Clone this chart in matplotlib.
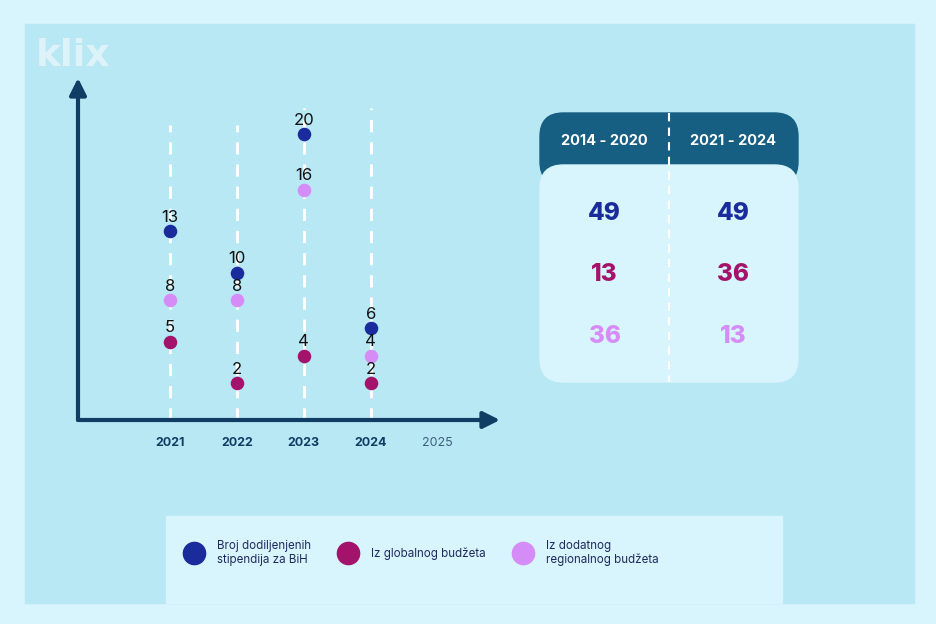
import matplotlib.pyplot as plt
from matplotlib.patches import Rectangle, FancyBboxPatch
from matplotlib.lines import Line2D

# data
years = [2021, 2022, 2023, 2024]
all_years = [2021, 2022, 2023, 2024, 2025]
broj = [13, 10, 20, 6]
globalni = [5, 2, 4, 2]
regionalni = [8, 8, 16, 4]
periods = ["2014 - 2020", "2021 - 2024"]
totals_2014_2020 = [49, 13, 36]
totals_2021_2024 = [49, 36, 13]
legend_labels = ["Broj dodiljenjenih\nstipendija za BiH", "Iz globalnog budžeta",
                 "Iz dodatnog\nregionalnog budžeta"]

c_blue = "#1a2b9b"
c_mag = "#a3136b"
c_lil = "#d68cf6"
c_axis = "#0f3d63"
c_outer = "#d8f4fc"
c_panel = "#b8e8f4"
c_head = "#175f82"
c_text = "#1f2b5e"

plt.rcParams['font.family'] = ['Inter', 'DejaVu Sans']

W, H = 936, 624
fig = plt.figure(figsize=(W / 100, H / 100), dpi=100, facecolor=c_outer)


def fx(x):
    return x / W


def fy(y):
    return 1 - y / H


# inner panel
fig.patches.append(Rectangle((fx(25), fy(603)), fx(914) - fx(25), fy(24) - fy(603),
                             transform=fig.transFigure, color=c_panel, zorder=0))
# legend box
fig.patches.append(Rectangle((fx(166), fy(603)), fx(782) - fx(166), fy(516) - fy(603),
                             transform=fig.transFigure, color=c_outer, zorder=0))

# logo
fig.text(fx(36), fy(56), "klix", fontsize=27, fontweight='heavy', color="#ddf3f9",
         ha='left', va='center', family='DejaVu Sans', zorder=1)

# ---- dot chart ----
x0, x1, y0, y1 = 78, 500, 420, 78
ax = fig.add_axes([fx(x0), fy(y0), fx(x1) - fx(x0), fy(y1) - fy(y0)])
ax.set_zorder(2)
ax.patch.set_visible(False)
ax.set_xlim(2019.63, 2025.93)
ax.set_ylim(-0.65, 24.06)
for s in ax.spines.values():
    s.set_visible(False)

# axes arrows
ax.annotate("", xy=(0, 1), xytext=(0, 0), xycoords='axes fraction',
            arrowprops=dict(arrowstyle="-|>,head_length=1.0,head_width=0.5", lw=3.0,
                            color=c_axis, shrinkA=0, shrinkB=0))
ax.annotate("", xy=(1, 0), xytext=(0, 0), xycoords='axes fraction',
            arrowprops=dict(arrowstyle="-|>,head_length=1.0,head_width=0.5", lw=3.0,
                            color=c_axis, shrinkA=0, shrinkB=0))

tops = [0.863, 0.863, 0.912, 0.912]
for yr, t in zip(years, tops):
    ax.axvline(yr, 0, t, color='white', lw=2.1, dashes=(4.2, 3.4), zorder=1)

for vals, col in [(broj, c_blue), (regionalni, c_lil), (globalni, c_mag)]:
    ax.scatter(years, vals, s=95, color=col, zorder=3, linewidths=0)
    for yr, v in zip(years, vals):
        ax.annotate(str(v), (yr, v), xytext=(0, 10), textcoords='offset points',
                    ha='center', va='center', fontsize=12, color='#111111', zorder=4)

ax.set_xticks(all_years)
ax.set_xticklabels([str(y) for y in all_years])
ax.tick_params(axis='x', length=0, pad=12, labelsize=9, labelcolor=c_axis)
for lab in ax.get_xticklabels()[:4]:
    lab.set_fontweight('bold')
ax.get_xticklabels()[4].set_color("#3d5f7d")
ax.set_yticks([])

# ---- summary table ----
tx0, tx1, ty0, ty1 = 540, 798, 113, 382
tax = fig.add_axes([fx(tx0), fy(ty1), fx(tx1) - fx(tx0), fy(ty0) - fy(ty1)])
tax.set_xlim(0, 2)
tax.set_ylim(3.62, -1.0)
tax.axis('off')
pw = fx(tx1) - fx(tx0)
head = FancyBboxPatch((fx(tx0), fy(185)), pw, fy(ty0) - fy(185),
                      boxstyle="round,pad=0,rounding_size=0.025",
                      transform=fig.transFigure, color=c_head, zorder=1,
                      mutation_aspect=W / H)
fig.patches.append(head)
body = FancyBboxPatch((fx(tx0), fy(ty1)), pw, fy(165) - fy(ty1),
                      boxstyle="round,pad=0,rounding_size=0.025",
                      transform=fig.transFigure, color=c_outer, zorder=2,
                      mutation_aspect=W / H)
fig.patches.append(body)
tax.plot([1, 1], [-1.0, 3.62], color='white', lw=1.5, dashes=(4, 3), zorder=5)
tax.set_zorder(3)

row_cols = [c_blue, c_mag, c_lil]
for j, (p, col_vals) in enumerate(zip(periods, [totals_2014_2020, totals_2021_2024])):
    tax.text(j + 0.5, -0.52, p, ha='center', va='center', color='white',
             fontsize=10.5, fontweight='bold')
    for i, v in enumerate(col_vals):
        tax.text(j + 0.5, 0.73 + i * 1.05, str(v), ha='center', va='center',
                 color=row_cols[i], fontsize=17.5, fontweight='heavy')

# ---- legend ----
handles = [Line2D([], [], marker='o', ls='', ms=16, color=c, mec=c)
           for c in [c_blue, c_mag, c_lil]]
fig.legend(handles, legend_labels, loc='center left', bbox_to_anchor=(fx(177), fy(553)),
           ncol=3, frameon=False, fontsize=8.3, labelcolor=c_text, handletextpad=1.4,
           columnspacing=2.6, handlelength=1.2)

fig.savefig("out.png", dpi=100, facecolor=c_outer)
